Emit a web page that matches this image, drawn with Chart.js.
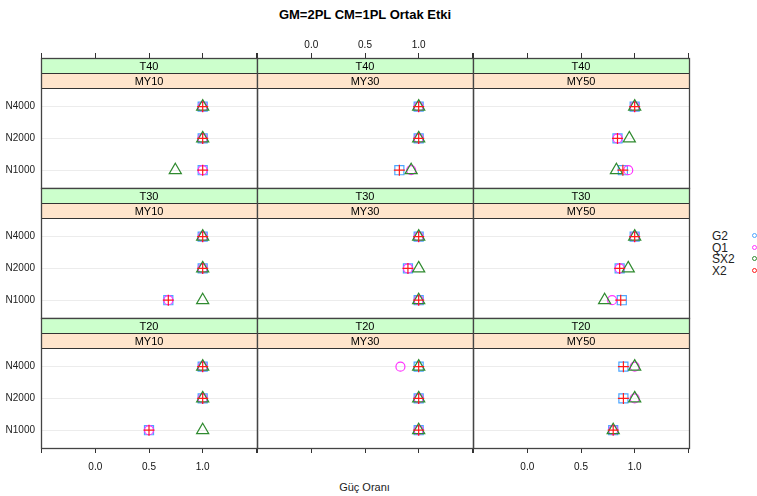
<!DOCTYPE html>
<html><head><meta charset="utf-8">
<script src="https://cdn.jsdelivr.net/npm/chart.js@4"></script>
<style>
html,body{margin:0;padding:0;background:#fff;}
#wrap{position:relative;width:757px;height:496px;overflow:hidden;font-family:"Liberation Sans",Arial,sans-serif;background:#fff;}
#wrap canvas{position:absolute;left:0;top:0;}
.t{position:absolute;white-space:nowrap;color:#000;line-height:1;}
.lg{position:absolute;left:712px;font-size:12px;color:#222;line-height:1;}
.dot{position:absolute;left:752px;width:3px;height:3px;border-radius:50%;border:1px solid;}
</style></head><body>
<div id="wrap">
<div class="t" style="left:0;width:730px;text-align:center;top:8px;font-size:13px;font-weight:bold;">GM=2PL CM=1PL Ortak Etki</div>
<div class="t" style="left:0;width:729px;text-align:center;top:482px;font-size:11px;color:#222;">Güç Oranı</div>
<div class="lg" style="top:230px;">G2</div><div class="dot" style="top:233px;border-color:#4da6ff"></div>
<div class="lg" style="top:242px;">Q1</div><div class="dot" style="top:245px;border-color:#ff33ff"></div>
<div class="lg" style="top:253px;">SX2</div><div class="dot" style="top:256px;border-color:#2f8a2f"></div>
<div class="lg" style="top:265px;">X2</div><div class="dot" style="top:268px;border-color:#ff1a1a"></div>
</div>
<script>
// ---- data ----
const nLevels = ['N1000', 'N2000', 'N4000'];
const tLevels = ['T40', 'T30', 'T20'];
const myLevels = ['MY10', 'MY30', 'MY50'];
const seriesNames = ['G2', 'Q1', 'SX2', 'X2'];
const xTickValues = [-0.5, 0, 0.5, 1, 1.5];
const xTickLabels = ['', '0.0', '0.5', '1.0', ''];
// order: T40(MY10,MY30,MY50), T30(...), T20(...); in each panel N1000, N2000, N4000
const G2  = [1,1,1,  0.82,1,1,  0.89,0.84,1,   0.68,1,1,  1,0.9,1,  0.88,0.86,1,   0.5,1,1,  1,1,1,     0.8,0.895,0.895];
const Q1  = [1,1,1,  0.93,1,1,  0.94,0.84,1,   0.68,1,1,  1,0.9,1,  0.79,0.86,1,   0.5,1,1,  1,1,0.83,  0.8,1,1];
const SX2 = [0.745,1,1, 0.93,1,1, 0.83,0.95,1, 1,1,1,     1,1,1,    0.72,0.94,1,   1,1,1,    1,1,1,     0.8,1,1];
const X2  = [1,1,1,  0.82,1,1,  0.89,0.84,1,   0.68,1,1,  1,0.9,1,  0.87,0.86,1,   0.5,1,1,  1,1,1,     0.8,0.895,0.895];
const seriesValues = [G2, Q1, SX2, X2];

// ---- styles / layout ----
const styles = [
  {shape:'rect', r:6.4, color:'#4da6ff'},
  {shape:'circle', r:4.5, color:'#ff33ff'},
  {shape:'triangle', r:7, color:'#2f8a2f'},
  {shape:'cross', r:5.5, color:'#ff1a1a'}
];
const W = 757, H = 496;
const colLeft = [41, 257, 473], colW = 216;
const rowTop = [58, 188, 318], rowH = 130, stripH = 15;
const XAX = 25, YAX = 40; // fixed axis box sizes
const wrap = document.getElementById('wrap');
const tickFont = {family:'"Liberation Sans", Arial, sans-serif', size:10};

function stripPlugin(r, c) {
  return {
    id: 'strips' + r + c,
    afterDraw(chart) {
      const ctx = chart.ctx, a = chart.chartArea;
      const L = a.left, R = a.right, T = a.top, B = a.bottom;
      ctx.save();
      ctx.fillStyle = '#ccffcc'; ctx.fillRect(L, T, R - L, stripH);
      ctx.fillStyle = '#ffe5cc'; ctx.fillRect(L, T + stripH, R - L, stripH);
      ctx.strokeStyle = '#333'; ctx.lineWidth = 1;
      ctx.beginPath();
      ctx.moveTo(L, T + stripH + 0.5); ctx.lineTo(R, T + stripH + 0.5);
      ctx.moveTo(L, T + 2 * stripH + 0.5); ctx.lineTo(R, T + 2 * stripH + 0.5);
      ctx.stroke();
      ctx.fillStyle = '#000';
      ctx.font = '11px "Liberation Sans", Arial, sans-serif';
      ctx.textAlign = 'center'; ctx.textBaseline = 'middle';
      ctx.fillText(tLevels[r], (L + R) / 2, T + stripH / 2 + 1);
      ctx.fillText(myLevels[c], (L + R) / 2, T + stripH * 1.5 + 1);
      ctx.strokeStyle = '#444'; ctx.lineWidth = 1.3;
      ctx.strokeRect(L + 0.5, T + 0.5, R - L, B - T);
      ctx.restore();
    }
  };
}

function xScale(pos, showTicks, labels) {
  return {
    type: 'linear', position: pos, min: -0.506, max: 1.506, display: true,
    afterBuildTicks: s => { s.ticks = xTickValues.map(v => ({value: v})); },
    afterFit: s => { s.height = XAX; },
    grid: {drawOnChartArea: false, drawTicks: showTicks, tickLength: 5, color: '#333', lineWidth: 1},
    border: {display: false},
    ticks: {display: showTicks && labels, autoSkip: false, maxRotation: 0, padding: pos === 'top' ? 2 : 8, color: '#111', font: tickFont,
      callback: (v) => { const i = xTickValues.findIndex(t => Math.abs(t - v) < 1e-9); return i >= 0 ? xTickLabels[i] : ''; }}
  };
}

for (let r = 0; r < 3; r++) {
  for (let c = 0; c < 3; c++) {
    const x0 = colLeft[c], x1 = x0 + colW, y0 = rowTop[r], y1 = y0 + rowH;
    const cv = document.createElement('canvas');
    cv.width = W; cv.height = H; cv.style.width = W + 'px'; cv.style.height = H + 'px';
    wrap.appendChild(cv);
    const base = (r * 3 + c) * 3;
    const datasets = seriesNames.map((name, s) => ({
      label: name,
      xAxisID: 'x', yAxisID: 'y',
      data: nLevels.map((n, k) => ({x: seriesValues[s][base + k], y: k + 1})),
      pointStyle: styles[s].shape,
      pointRadius: styles[s].r,
      borderColor: styles[s].color,
      backgroundColor: 'rgba(0,0,0,0)',
      pointBorderWidth: 1.2,
      borderWidth: 1.2,
      order: 3 - s,
      showLine: false
    }));
    new Chart(cv, {
      type: 'scatter',
      data: {datasets},
      options: {
        responsive: false, animation: false, devicePixelRatio: 1,
        layout: {padding: {left: x0 - YAX, right: W - x1, top: y0 - XAX, bottom: H - y1 - XAX}},
        plugins: {legend: {display: false}, tooltip: {enabled: false}, title: {display: false}},
        scales: {
          x: xScale('bottom', r === 2, c !== 1),
          xTop: xScale('top', r === 0, c === 1),
          y: {
            type: 'linear', position: 'left', min: 0.44, max: 4.53, display: true,
            afterBuildTicks: s => { s.ticks = [1, 2, 3].map(v => ({value: v})); },
            afterFit: s => { s.width = YAX; },
            grid: {drawOnChartArea: true, drawTicks: false, color: '#ececec', lineWidth: 1},
            border: {display: false},
            ticks: {display: c === 0, padding: 6, color: '#222', font: tickFont,
              callback: v => nLevels[Math.round(v) - 1] || ''}
          }
        }
      },
      plugins: [stripPlugin(r, c)]
    });
  }
}
</script>
</body></html>
